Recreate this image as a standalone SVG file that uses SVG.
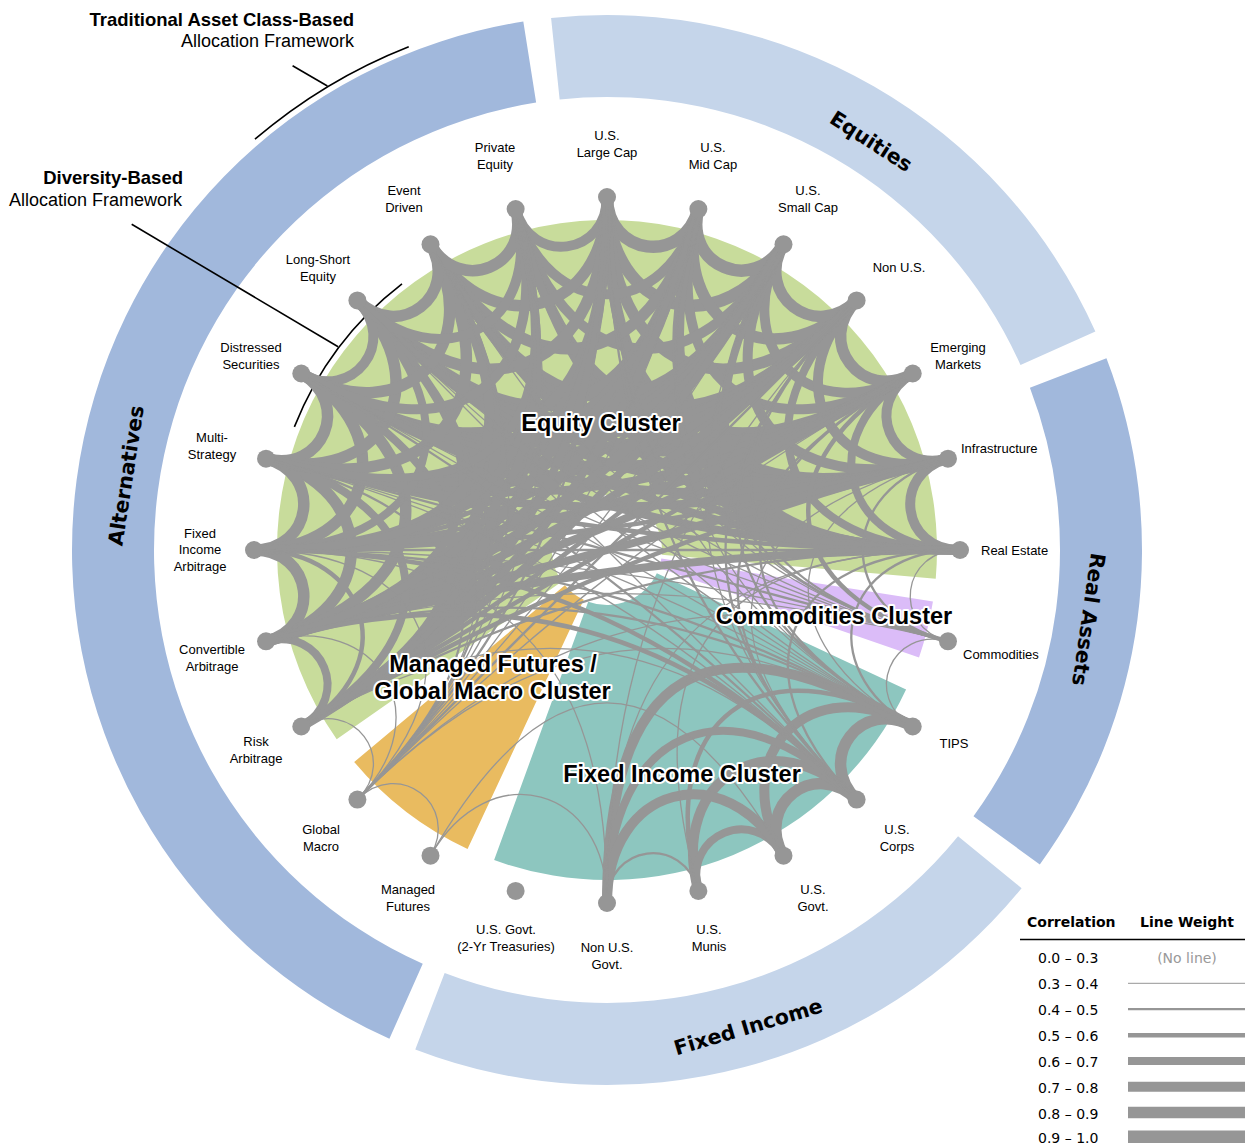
<svg xmlns="http://www.w3.org/2000/svg" width="1245" height="1145" viewBox="0 0 1245 1145">
<style>
.lbl{font-family:"Liberation Sans",Arial,sans-serif;font-size:13px;fill:#000;text-anchor:middle}
.lbl.st{text-anchor:start}
.cl{font-family:"Liberation Sans",Arial,sans-serif;font-weight:bold;font-size:23.5px;fill:#000;stroke:#fff;stroke-width:4;stroke-linejoin:round;paint-order:stroke;text-anchor:middle}
.ring{font-family:"DejaVu Sans",Verdana,sans-serif;font-weight:bold;font-size:20.5px;fill:#000;text-anchor:middle}
.ann{font-family:"Liberation Sans",Arial,sans-serif;font-size:18px;fill:#000;text-anchor:end}
.annb{font-weight:bold;font-size:18.5px}
.nd{fill:#969696}
.leg{font-family:"DejaVu Sans",Verdana,sans-serif;font-size:14px;fill:#000}
.legh{font-weight:bold}
.leg.gr{fill:#999;text-anchor:middle}
.w3{stroke-width:1.3}.w4{stroke-width:2.3}.w5{stroke-width:4.5}.w6{stroke-width:8}.w7{stroke-width:10}.w8{stroke-width:11.5}.w9{stroke-width:12.5}
</style>
<defs>
<path id="k1" d="M560.92,200.02 C568.60,258.35 645.40,258.35 653.08,200.02"/>
<path id="k2" d="M515.64,209.03 C546.09,322.69 667.91,322.69 698.36,209.03"/>
<path id="k3" d="M471.91,223.87 C539.46,386.93 674.54,386.93 742.09,223.87"/>
<path id="k4" d="M430.5,244.29 C548.17,448.10 665.83,448.10 783.5,244.29"/>
<path id="k5" d="M392.11,269.95 C542.53,465.98 671.47,465.98 821.89,269.95"/>
<path id="k6" d="M357.39,300.39 C532.12,475.12 681.88,475.12 856.61,300.39"/>
<path id="k7" d="M326.95,335.11 C522.98,485.53 691.02,485.53 887.05,335.11"/>
<path id="k8" d="M301.29,373.5 C515.29,497.05 698.71,497.05 912.71,373.5"/>
<path id="k9" d="M280.87,414.91 C509.16,509.47 704.84,509.47 933.13,414.91"/>
<path id="k10" d="M266.03,458.64 C504.71,522.59 709.29,522.59 947.97,458.64"/>
<path id="k11" d="M257.02,503.92 C502.01,536.18 711.99,536.18 956.98,503.92"/>
<path id="k12" d="M254,550 L960,550"/>
</defs>
<rect width="1245" height="1145" fill="#fff"/>

<g id="outer-ring">
<path id="ring-alternatives" d="M389.40,1038.75 A535,535 0 0 1 523.31,21.59 L536.13,102.58 A453,453 0 0 0 422.75,963.84 Z" fill="#a1b8dc"/>
<path id="ring-equities" d="M551.08,17.93 A535,535 0 0 1 1095.37,331.54 L1020.51,365.03 A453,453 0 0 0 559.65,99.48 Z" fill="#c5d5ea"/>
<path id="ring-real-assets" d="M1106.46,358.27 A535,535 0 0 1 1039.82,864.47 L973.48,816.27 A453,453 0 0 0 1029.91,387.66 Z" fill="#a1b8dc"/>
<path id="ring-fixed-income" d="M1021.59,888.14 A535,535 0 0 1 415.27,1049.46 L444.66,972.91 A453,453 0 0 0 958.05,836.31 Z" fill="#c5d5ea"/>
<text class="ring" x="607" y="70.5" transform="rotate(32.9 607 550)">Equities</text>
<text class="ring" x="607" y="70.5" transform="rotate(98.2 607 550)">Real Assets</text>
<text class="ring" x="607" y="70.5" transform="rotate(-81.2 607 550)">Alternatives</text>
<text class="ring" x="607" y="1054.5" transform="rotate(-16.5 607 550)">Fixed Income</text>
</g>

<g id="clusters">
<path id="cluster-equity" d="M336.68,739.28 A330,330 0 1 1 935.74,578.76 L661.79,554.79 A55,55 0 1 0 561.95,581.55 Z" fill="#c8dc9b"/>
<path id="cluster-commodities" d="M932.94,601.62 A330,330 0 0 1 919.02,657.44 L659.00,567.91 A55,55 0 0 0 661.32,558.60 Z" fill="#dbbcf8"/>
<path id="cluster-fixed-income" d="M906.08,689.46 A330,330 0 0 1 494.13,860.10 L588.19,601.68 A55,55 0 0 0 656.85,573.24 Z" fill="#8dc6bf"/>
<path id="cluster-managed-futures" d="M467.54,849.08 A330,330 0 0 1 354.21,762.12 L564.87,585.35 A55,55 0 0 0 583.76,599.85 Z" fill="#e9bb60"/>
</g>

<g id="annotations" fill="none" stroke="#000" stroke-width="1.6">
<path d="M254.93,139.23 A541,541 0 0 1 408.72,46.64"/>
<path d="M292.6,65.7 L327.4,86"/>
<path d="M294.38,426.86 A336,336 0 0 1 401.99,283.79"/>
<path d="M131.7,224.3 L338.1,346.7"/>
</g>
<g id="annotation-text" class="ann">
<text x="354" y="25.5" class="annb">Traditional Asset Class-Based</text>
<text x="354" y="47">Allocation Framework</text>
<text x="183" y="184" class="annb">Diversity-Based</text>
<text x="182" y="206">Allocation Framework</text>
</g>

<g id="connectors" fill="none" stroke="#969696">
<use href="#k1" transform="rotate(7.5 607 550)" class="w9"/>
<use href="#k2" transform="rotate(15 607 550)" class="w9"/>
<use href="#k3" transform="rotate(22.5 607 550)" class="w8"/>
<use href="#k4" transform="rotate(30 607 550)" class="w7"/>
<use href="#k5" transform="rotate(37.5 607 550)" class="w7"/>
<use href="#k6" transform="rotate(45 607 550)" class="w7"/>
<use href="#k1" transform="rotate(22.5 607 550)" class="w9"/>
<use href="#k2" transform="rotate(30 607 550)" class="w8"/>
<use href="#k3" transform="rotate(37.5 607 550)" class="w7"/>
<use href="#k4" transform="rotate(45 607 550)" class="w7"/>
<use href="#k5" transform="rotate(52.5 607 550)" class="w7"/>
<use href="#k1" transform="rotate(37.5 607 550)" class="w8"/>
<use href="#k2" transform="rotate(45 607 550)" class="w7"/>
<use href="#k3" transform="rotate(52.5 607 550)" class="w7"/>
<use href="#k4" transform="rotate(60 607 550)" class="w6"/>
<use href="#k1" transform="rotate(52.5 607 550)" class="w8"/>
<use href="#k2" transform="rotate(60 607 550)" class="w7"/>
<use href="#k3" transform="rotate(67.5 607 550)" class="w6"/>
<use href="#k1" transform="rotate(67.5 607 550)" class="w7"/>
<use href="#k2" transform="rotate(75 607 550)" class="w6"/>
<use href="#k1" transform="rotate(82.5 607 550)" class="w7"/>

<use href="#k1" transform="rotate(352.5 607 550)" class="w7"/>
<use href="#k2" class="w7"/>
<use href="#k3" transform="rotate(7.5 607 550)" class="w7"/>
<use href="#k4" transform="rotate(15 607 550)" class="w7"/>
<use href="#k5" transform="rotate(22.5 607 550)" class="w6"/>
<use href="#k6" transform="rotate(30 607 550)" class="w6"/>
<use href="#k7" transform="rotate(37.5 607 550)" class="w6"/>

<use href="#k2" transform="rotate(345 607 550)" class="w8"/>
<use href="#k3" transform="rotate(352.5 607 550)" class="w8"/>
<use href="#k4" class="w8"/>
<use href="#k5" transform="rotate(7.5 607 550)" class="w7"/>
<use href="#k6" transform="rotate(15 607 550)" class="w7"/>
<use href="#k7" transform="rotate(22.5 607 550)" class="w6"/>
<use href="#k8" transform="rotate(30 607 550)" class="w6"/>

<use href="#k3" transform="rotate(337.5 607 550)" class="w8"/>
<use href="#k4" transform="rotate(345 607 550)" class="w8"/>
<use href="#k5" transform="rotate(352.5 607 550)" class="w8"/>
<use href="#k6" class="w8"/>
<use href="#k7" transform="rotate(7.5 607 550)" class="w7"/>
<use href="#k8" transform="rotate(15 607 550)" class="w6"/>
<use href="#k9" transform="rotate(22.5 607 550)" class="w6"/>

<use href="#k4" transform="rotate(330 607 550)" class="w7"/>
<use href="#k5" transform="rotate(337.5 607 550)" class="w7"/>
<use href="#k6" transform="rotate(345 607 550)" class="w7"/>
<use href="#k7" transform="rotate(352.5 607 550)" class="w6"/>
<use href="#k8" class="w7"/>
<use href="#k9" transform="rotate(7.5 607 550)" class="w6"/>
<use href="#k10" transform="rotate(15 607 550)" class="w6"/>

<use href="#k5" transform="rotate(322.5 607 550)" class="w6"/>
<use href="#k6" transform="rotate(330 607 550)" class="w6"/>
<use href="#k7" transform="rotate(337.5 607 550)" class="w6"/>
<use href="#k8" transform="rotate(345 607 550)" class="w6"/>
<use href="#k9" transform="rotate(352.5 607 550)" class="w6"/>
<use href="#k10" class="w6"/>
<use href="#k11" transform="rotate(7.5 607 550)" class="w5"/>

<use href="#k6" transform="rotate(315 607 550)" class="w5"/>
<use href="#k7" transform="rotate(322.5 607 550)" class="w5"/>
<use href="#k8" transform="rotate(330 607 550)" class="w5"/>
<use href="#k9" transform="rotate(337.5 607 550)" class="w5"/>
<use href="#k10" transform="rotate(345 607 550)" class="w6"/>
<use href="#k11" transform="rotate(352.5 607 550)" class="w5"/>
<use href="#k12" class="w4"/>

<use href="#k7" transform="rotate(307.5 607 550)" class="w7"/>
<use href="#k8" transform="rotate(315 607 550)" class="w7"/>
<use href="#k9" transform="rotate(322.5 607 550)" class="w7"/>
<use href="#k10" transform="rotate(330 607 550)" class="w6"/>
<use href="#k11" transform="rotate(337.5 607 550)" class="w6"/>
<use href="#k12" transform="rotate(345 607 550)" class="w6"/>
<use href="#k11" transform="rotate(172.5 607 550)" class="w6"/>

<use href="#k8" transform="rotate(300 607 550)" class="w6"/>
<use href="#k9" transform="rotate(307.5 607 550)" class="w6"/>
<use href="#k10" transform="rotate(315 607 550)" class="w6"/>
<use href="#k11" transform="rotate(322.5 607 550)" class="w5"/>
<use href="#k12" transform="rotate(330 607 550)" class="w5"/>
<use href="#k11" transform="rotate(157.5 607 550)" class="w5"/>
<use href="#k10" transform="rotate(165 607 550)" class="w4"/>

<use href="#k1" transform="rotate(247.5 607 550)" class="w6"/>
<use href="#k2" transform="rotate(255 607 550)" class="w5"/>
<use href="#k3" transform="rotate(262.5 607 550)" class="w6"/>
<use href="#k4" transform="rotate(270 607 550)" class="w6"/>
<use href="#k5" transform="rotate(277.5 607 550)" class="w6"/>
<use href="#k6" transform="rotate(285 607 550)" class="w7"/>
<use href="#k1" transform="rotate(262.5 607 550)" class="w8"/>
<use href="#k2" transform="rotate(270 607 550)" class="w8"/>
<use href="#k3" transform="rotate(277.5 607 550)" class="w8"/>
<use href="#k4" transform="rotate(285 607 550)" class="w6"/>
<use href="#k5" transform="rotate(292.5 607 550)" class="w7"/>
<use href="#k1" transform="rotate(277.5 607 550)" class="w8"/>
<use href="#k2" transform="rotate(285 607 550)" class="w8"/>
<use href="#k3" transform="rotate(292.5 607 550)" class="w6"/>
<use href="#k4" transform="rotate(300 607 550)" class="w7"/>
<use href="#k1" transform="rotate(292.5 607 550)" class="w8"/>
<use href="#k2" transform="rotate(300 607 550)" class="w8"/>
<use href="#k3" transform="rotate(307.5 607 550)" class="w8"/>
<use href="#k1" transform="rotate(307.5 607 550)" class="w7"/>
<use href="#k2" transform="rotate(315 607 550)" class="w8"/>
<use href="#k1" transform="rotate(322.5 607 550)" class="w8"/>

<use href="#k1" transform="rotate(337.5 607 550)" class="w8"/>
<use href="#k2" transform="rotate(330 607 550)" class="w7"/>
<use href="#k3" transform="rotate(322.5 607 550)" class="w7"/>
<use href="#k4" transform="rotate(315 607 550)" class="w6"/>
<use href="#k5" transform="rotate(307.5 607 550)" class="w6"/>
<use href="#k6" transform="rotate(300 607 550)" class="w6"/>
<use href="#k7" transform="rotate(292.5 607 550)" class="w5"/>

<use href="#k7" transform="rotate(52.5 607 550)" class="w3"/>
<use href="#k6" transform="rotate(60 607 550)" class="w3"/>
<use href="#k5" transform="rotate(67.5 607 550)" class="w4"/>
<use href="#k4" transform="rotate(75 607 550)" class="w4"/>
<use href="#k3" transform="rotate(82.5 607 550)" class="w5"/>
<use href="#k2" transform="rotate(90 607 550)" class="w4"/>
<use href="#k1" transform="rotate(97.5 607 550)" class="w3"/>
<use href="#k1" transform="rotate(112.5 607 550)" class="w3"/>
<use href="#k9" transform="rotate(37.5 607 550)" class="w3"/>
<use href="#k10" transform="rotate(30 607 550)" class="w3"/>
<use href="#k11" transform="rotate(22.5 607 550)" class="w3"/>
<use href="#k12" transform="rotate(195 607 550)" class="w4"/>
<use href="#k11" transform="rotate(187.5 607 550)" class="w3"/>
<use href="#k10" transform="rotate(180 607 550)" class="w3"/>
<use href="#k8" transform="rotate(165 607 550)" class="w3"/>

<use href="#k8" transform="rotate(60 607 550)" class="w3"/>
<use href="#k7" transform="rotate(67.5 607 550)" class="w3"/>
<use href="#k5" transform="rotate(82.5 607 550)" class="w4"/>
<use href="#k4" transform="rotate(90 607 550)" class="w4"/>
<use href="#k3" transform="rotate(97.5 607 550)" class="w3"/>
<use href="#k2" transform="rotate(105 607 550)" class="w4"/>
<use href="#k9" transform="rotate(187.5 607 550)" class="w4"/>
<use href="#k10" transform="rotate(195 607 550)" class="w4"/>
<use href="#k11" transform="rotate(202.5 607 550)" class="w3"/>
<use href="#k12" transform="rotate(210 607 550)" class="w3"/>
<use href="#k10" transform="rotate(45 607 550)" class="w3"/>
<use href="#k11" transform="rotate(37.5 607 550)" class="w3"/>
<use href="#k1" transform="rotate(127.5 607 550)" class="w8"/>
<use href="#k2" transform="rotate(135 607 550)" class="w7"/>
<use href="#k3" transform="rotate(142.5 607 550)" class="w5"/>
<use href="#k4" transform="rotate(150 607 550)" class="w7"/>
<use href="#k7" transform="rotate(172.5 607 550)" class="w3"/>

<use href="#k1" transform="rotate(142.5 607 550)" class="w8"/>
<use href="#k2" transform="rotate(150 607 550)" class="w7"/>
<use href="#k3" transform="rotate(157.5 607 550)" class="w6"/>
<use href="#k9" transform="rotate(67.5 607 550)" class="w4"/>
<use href="#k7" transform="rotate(82.5 607 550)" class="w3"/>
<use href="#k6" transform="rotate(90 607 550)" class="w4"/>
<use href="#k5" transform="rotate(97.5 607 550)" class="w4"/>
<use href="#k4" transform="rotate(105 607 550)" class="w3"/>
<use href="#k3" transform="rotate(112.5 607 550)" class="w4"/>
<use href="#k8" transform="rotate(195 607 550)" class="w5"/>
<use href="#k9" transform="rotate(202.5 607 550)" class="w5"/>
<use href="#k10" transform="rotate(210 607 550)" class="w3"/>
<use href="#k11" transform="rotate(217.5 607 550)" class="w4"/>
<use href="#k12" transform="rotate(225 607 550)" class="w3"/>
<use href="#k7" transform="rotate(187.5 607 550)" class="w3"/>

<use href="#k1" transform="rotate(157.5 607 550)" class="w6"/>
<use href="#k2" transform="rotate(165 607 550)" class="w7"/>
<use href="#k4" transform="rotate(180 607 550)" class="w3"/>
<use href="#k1" transform="rotate(172.5 607 550)" class="w4"/>
<use href="#k5" transform="rotate(127.5 607 550)" class="w3"/>
<use href="#k2" transform="rotate(195 607 550)" class="w3"/>
<use href="#k9" transform="rotate(112.5 607 550)" class="w3"/>
<use href="#k6" transform="rotate(225 607 550)" class="w3"/>
<use href="#k6" transform="rotate(135 607 550)" class="w3"/>

<use href="#k1" transform="rotate(217.5 607 550)" class="w3"/>
<use href="#k1" transform="rotate(232.5 607 550)" class="w3"/>
<use href="#k9" transform="rotate(292.5 607 550)" class="w4"/>
<use href="#k10" transform="rotate(300 607 550)" class="w3"/>
<use href="#k11" transform="rotate(307.5 607 550)" class="w3"/>
<use href="#k12" transform="rotate(315 607 550)" class="w4"/>
<use href="#k11" transform="rotate(142.5 607 550)" class="w3"/>
<use href="#k4" transform="rotate(255 607 550)" class="w4"/>
<use href="#k5" transform="rotate(262.5 607 550)" class="w3"/>
<use href="#k6" transform="rotate(270 607 550)" class="w4"/>
<use href="#k7" transform="rotate(277.5 607 550)" class="w3"/>
<use href="#k8" transform="rotate(285 607 550)" class="w3"/>
<use href="#k3" transform="rotate(247.5 607 550)" class="w3"/>
<use href="#k2" transform="rotate(240 607 550)" class="w3"/>
</g>

<g id="nodes">
<g id="node-us-large-cap"><circle class="nd" cx="607" cy="197" r="9"/><text class="lbl" x="607" y="139.5">U.S.<tspan x="607" dy="17">Large Cap</tspan></text></g>
<g id="node-us-mid-cap"><circle class="nd" cx="698.36" cy="209.03" r="9"/><text class="lbl" x="713" y="151.5">U.S.<tspan x="713" dy="17">Mid Cap</tspan></text></g>
<g id="node-us-small-cap"><circle class="nd" cx="783.5" cy="244.29" r="9"/><text class="lbl" x="808" y="194.5">U.S.<tspan x="808" dy="17">Small Cap</tspan></text></g>
<g id="node-non-us"><circle class="nd" cx="856.61" cy="300.39" r="9"/><text class="lbl" x="899" y="271.5">Non U.S.</text></g>
<g id="node-emerging-markets"><circle class="nd" cx="912.71" cy="373.5" r="9"/><text class="lbl" x="958" y="351.5">Emerging<tspan x="958" dy="17">Markets</tspan></text></g>
<g id="node-infrastructure"><circle class="nd" cx="947.97" cy="458.64" r="9"/><text class="lbl st" x="961" y="452.5">Infrastructure</text></g>
<g id="node-real-estate"><circle class="nd" cx="960" cy="550" r="9"/><text class="lbl st" x="981" y="554.5">Real Estate</text></g>
<g id="node-commodities"><circle class="nd" cx="947.97" cy="641.36" r="9"/><text class="lbl st" x="963" y="658.5">Commodities</text></g>
<g id="node-tips"><circle class="nd" cx="912.71" cy="726.5" r="9"/><text class="lbl" x="954" y="747.5">TIPS</text></g>
<g id="node-us-corps"><circle class="nd" cx="856.61" cy="799.61" r="9"/><text class="lbl" x="897" y="833.5">U.S.<tspan x="897" dy="17">Corps</tspan></text></g>
<g id="node-us-govt"><circle class="nd" cx="783.5" cy="855.71" r="9"/><text class="lbl" x="813" y="893.5">U.S.<tspan x="813" dy="17">Govt.</tspan></text></g>
<g id="node-us-munis"><circle class="nd" cx="698.36" cy="890.97" r="9"/><text class="lbl" x="709" y="933.5">U.S.<tspan x="709" dy="17">Munis</tspan></text></g>
<g id="node-non-us-govt"><circle class="nd" cx="607" cy="903" r="9"/><text class="lbl" x="607" y="951.5">Non U.S.<tspan x="607" dy="17">Govt.</tspan></text></g>
<g id="node-us-govt-2yr"><circle class="nd" cx="515.64" cy="890.97" r="9"/><text class="lbl" x="506" y="933.5">U.S. Govt.<tspan x="506" dy="17">(2-Yr Treasuries)</tspan></text></g>
<g id="node-managed-futures"><circle class="nd" cx="430.5" cy="855.71" r="9"/><text class="lbl" x="408" y="893.5">Managed<tspan x="408" dy="17">Futures</tspan></text></g>
<g id="node-global-macro"><circle class="nd" cx="357.39" cy="799.61" r="9"/><text class="lbl" x="321" y="833.5">Global<tspan x="321" dy="17">Macro</tspan></text></g>
<g id="node-risk-arbitrage"><circle class="nd" cx="301.29" cy="726.5" r="9"/><text class="lbl" x="256" y="745.5">Risk<tspan x="256" dy="17">Arbitrage</tspan></text></g>
<g id="node-convertible-arbitrage"><circle class="nd" cx="266.03" cy="641.36" r="9"/><text class="lbl" x="212" y="653.5">Convertible<tspan x="212" dy="17">Arbitrage</tspan></text></g>
<g id="node-fixed-income-arbitrage"><circle class="nd" cx="254" cy="550" r="9"/><text class="lbl" x="200" y="537.5">Fixed<tspan x="200" dy="16.5">Income</tspan><tspan x="200" dy="16.5">Arbitrage</tspan></text></g>
<g id="node-multi-strategy"><circle class="nd" cx="266.03" cy="458.64" r="9"/><text class="lbl" x="212" y="441.5">Multi-<tspan x="212" dy="17">Strategy</tspan></text></g>
<g id="node-distressed-securities"><circle class="nd" cx="301.29" cy="373.5" r="9"/><text class="lbl" x="251" y="351.5">Distressed<tspan x="251" dy="17">Securities</tspan></text></g>
<g id="node-long-short-equity"><circle class="nd" cx="357.39" cy="300.39" r="9"/><text class="lbl" x="318" y="263.5">Long-Short<tspan x="318" dy="17">Equity</tspan></text></g>
<g id="node-event-driven"><circle class="nd" cx="430.5" cy="244.29" r="9"/><text class="lbl" x="404" y="194.5">Event<tspan x="404" dy="17">Driven</tspan></text></g>
<g id="node-private-equity"><circle class="nd" cx="515.64" cy="209.03" r="9"/><text class="lbl" x="495" y="151.5">Private<tspan x="495" dy="17">Equity</tspan></text></g>
</g>

<g id="cluster-labels">
<text class="cl" x="601" y="431">Equity Cluster</text>
<text class="cl" x="834" y="624">Commodities Cluster</text>
<text class="cl" x="493" y="672">Managed Futures /</text>
<text class="cl" x="492.5" y="699">Global Macro Cluster</text>
<text class="cl" x="682" y="782">Fixed Income Cluster</text>
</g>

<g id="legend">
<text class="leg legh" x="1027" y="927">Correlation</text>
<text class="leg legh" x="1140" y="927">Line Weight</text>
<path d="M1020,939.5 H1245" stroke="#000" stroke-width="1.5"/>
<text class="leg" x="1038" y="963">0.0 – 0.3</text>
<text class="leg gr" x="1187" y="963">(No line)</text>
<text class="leg" x="1038" y="989">0.3 – 0.4</text>
<text class="leg" x="1038" y="1015">0.4 – 0.5</text>
<text class="leg" x="1038" y="1041">0.5 – 0.6</text>
<text class="leg" x="1038" y="1067">0.6 – 0.7</text>
<text class="leg" x="1038" y="1093">0.7 – 0.8</text>
<text class="leg" x="1038" y="1119">0.8 – 0.9</text>
<text class="leg" x="1038" y="1143">0.9 – 1.0</text>
<g stroke="#969696">
<path d="M1128,983.3 H1245" stroke="#aaa" stroke-width="1.3"/>
<path d="M1128,1009.2 H1245" stroke-width="2.3"/>
<path d="M1128,1035.2 H1245" stroke-width="4.5"/>
<path d="M1128,1061 H1245" stroke-width="8"/>
<path d="M1128,1086.8 H1245" stroke-width="10"/>
<path d="M1128,1112.5 H1245" stroke-width="11.5"/>
<path d="M1128,1136.7 H1245" stroke-width="12.5"/>
</g>
</g>
</svg>
